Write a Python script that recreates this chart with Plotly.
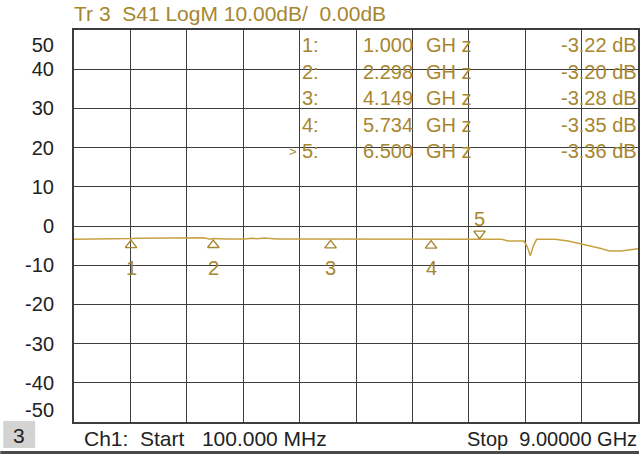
import plotly.graph_objects as go

# ---------------- data ----------------
freq_ghz = [0.1, 0.5, 0.95, 1.0, 1.1, 1.6, 1.86, 2.0, 2.15, 2.25, 2.298, 2.5, 2.8, 2.9,
            3.0, 3.1, 3.2, 3.3, 3.6, 4.149, 4.6, 5.2, 5.734, 6.2, 6.5, 6.85, 6.95,
            7.2, 7.25, 7.30, 7.35, 7.40, 7.69, 7.9, 8.16, 8.4, 8.55, 8.73, 9.0]
s41_db = [-3.4, -3.4, -3.4, -3.22, -3.1, -3.1, -3.12, -3.1, -3.0, -3.35, -3.2, -3.3,
          -3.3, -3.1, -3.25, -3.05, -3.25, -3.3, -3.3, -3.28, -3.3, -3.3, -3.35, -3.3,
          -3.36, -3.38, -3.8, -3.85, -5.2, -7.6, -5.0, -3.4, -3.4, -3.8, -4.7, -5.7,
          -6.35, -6.35, -5.8]

marker_ids = ["1", "2", "3", "4", "5"]
marker_freq = [1.000, 2.298, 4.149, 5.734, 6.500]
marker_db = [-3.22, -3.20, -3.28, -3.35, -3.36]
active_marker = 5

ytick_text = ["50", "40", "30", "20", "10", "0", "-10", "-20", "-30", "-40", "-50"]
ref_level_db = [0.0]

title_text = "Tr 3&nbsp;&nbsp;S41 LogM 10.00dB/&nbsp;&nbsp;0.00dB"
start_text = "Ch1:&nbsp;&nbsp;Start&nbsp;&nbsp;&nbsp;100.000 MHz"
stop_text = "Stop&nbsp;&nbsp;9.00000 GHz"
channel_label = "3"

# ---------------- geometry / style ----------------
W, H = 641, 454
L, R, T, B = 74, 1, 30, 32
PW, PH = W - L - R, H - T - B
F0, F1 = 0.1, 9.0
Y0, Y1 = -50, 50
px_per_db = PH / (Y1 - Y0)
px_per_ghz = PW / (F1 - F0)

GOLD_TXT = "#a7862f"
GOLD_LINE = "#c9a143"
GRID = "#3d3d3d"
DARK = "#222222"
FONT = "Liberation Sans, Arial, sans-serif"
FS = 20

def px(xp):
    return (xp - L) / PW

def py(yp):
    return (T + PH - yp) / PH

fig = go.Figure()

# trace
fig.add_trace(go.Scatter(x=freq_ghz, y=s41_db, mode="lines",
                         line=dict(color=GOLD_LINE, width=1.5),
                         hoverinfo="skip", showlegend=False))

# marker triangles
up_x = [f for i, f in enumerate(marker_freq) if i + 1 != active_marker]
up_y = [v - 6.5 / px_per_db for i, v in enumerate(marker_db) if i + 1 != active_marker]
fig.add_trace(go.Scatter(x=up_x, y=up_y, mode="markers",
                         marker=dict(symbol="triangle-up-open", size=10, color=GOLD_TXT,
                                     line=dict(width=1.4, color=GOLD_TXT)),
                         hoverinfo="skip", showlegend=False))
ai = active_marker - 1
fig.add_trace(go.Scatter(x=[marker_freq[ai]], y=[marker_db[ai] + 5.5 / px_per_db], mode="markers",
                         marker=dict(symbol="triangle-down-open", size=10, color=GOLD_TXT,
                                     line=dict(width=1.4, color=GOLD_TXT)),
                         hoverinfo="skip", showlegend=False))

# reference level arrow (on y2 so the overlay axis has data)
fig.add_trace(go.Scatter(x=[F0 - 4.5 / px_per_ghz], y=ref_level_db, mode="markers",
                         marker=dict(symbol="triangle-right", size=8, color="#8a7222"),
                         cliponaxis=False, yaxis="y2", hoverinfo="skip", showlegend=False))

annotations = []
# marker number labels
for i, (mid, f, v) in enumerate(zip(marker_ids, marker_freq, marker_db)):
    ys = 20 if i + 1 == active_marker else -29
    annotations.append(dict(x=f, y=v, xref="x", yref="y", text=mid, showarrow=False,
                            yshift=ys, font=dict(family=FONT, size=20, color=GOLD_TXT)))

# marker table
row_y = [45, 71.5, 98, 124.5, 151]
for i, (mid, f, v) in enumerate(zip(marker_ids, marker_freq, marker_db)):
    yy = py(row_y[i])
    fnt = dict(family=FONT, size=FS, color=GOLD_TXT)
    annotations.append(dict(x=px(301), y=yy, xref="paper", yref="paper", text=mid + ":",
                            xanchor="left", yanchor="middle", showarrow=False, font=fnt))
    annotations.append(dict(x=px(416), y=yy, xref="paper", yref="paper", text=f"{f:.3f}",
                            xanchor="right", yanchor="middle", showarrow=False, font=fnt))
    annotations.append(dict(x=px(425), y=yy, xref="paper", yref="paper", text="GH z",
                            xanchor="left", yanchor="middle", showarrow=False, font=fnt))
    annotations.append(dict(x=px(641), y=yy, xref="paper", yref="paper", text=f"{v:.2f} dB",
                            xanchor="right", yanchor="middle", showarrow=False, font=fnt))
    if i + 1 == active_marker:
        annotations.append(dict(x=px(300), y=yy, xref="paper", yref="paper", text=">",
                                xanchor="right", yanchor="middle", showarrow=False,
                                font=dict(family=FONT, size=13, color=GOLD_TXT)))

# title
annotations.append(dict(x=px(72), y=py(14), xref="paper", yref="paper", text=title_text,
                        xanchor="left", yanchor="middle", showarrow=False,
                        font=dict(family=FONT, size=21, color=GOLD_TXT)))
# bottom status
annotations.append(dict(x=px(19), y=py(435), xref="paper", yref="paper", text=channel_label,
                        xanchor="center", yanchor="middle", showarrow=False,
                        font=dict(family=FONT, size=21, color=DARK)))
annotations.append(dict(x=px(82), y=py(439), xref="paper", yref="paper", text=start_text,
                        xanchor="left", yanchor="middle", showarrow=False,
                        font=dict(family=FONT, size=21, color=DARK)))
annotations.append(dict(x=px(641), y=py(439), xref="paper", yref="paper", text=stop_text,
                        xanchor="right", yanchor="middle", showarrow=False,
                        font=dict(family=FONT, size=FS, color=DARK)))

shapes = [
    dict(type="rect", xref="paper", yref="paper", x0=px(3), x1=px(35), y0=py(421), y1=py(448),
         fillcolor="#d3d3d3", line=dict(width=0), layer="below"),
    dict(type="line", xref="paper", yref="paper", x0=px(0), x1=px(641), y0=py(452.5), y1=py(452.5),
         line=dict(color="#4a4a4a", width=3)),
]

# y tick label positions (50 and -50 are pulled inside the frame as on the instrument)
ytick_vals = []
for t in ytick_text:
    v = float(t)
    if v == Y1:
        v = Y1 - 15 / px_per_db
    elif v == Y0:
        v = Y0 + 12 / px_per_db
    ytick_vals.append(v)

fig.update_layout(
    width=W, height=H, margin=dict(l=L, r=R, t=T, b=B, pad=0),
    paper_bgcolor="white", plot_bgcolor="white",
    xaxis=dict(range=[F0, F1], tickmode="linear", tick0=F0, dtick=(F1 - F0) / 10,
               showticklabels=False, ticks="", showgrid=True, gridcolor=GRID, gridwidth=1,
               zeroline=False, showline=True, mirror=True, linecolor=GRID, linewidth=1.5,
               fixedrange=True),
    yaxis=dict(range=[Y0, Y1], tickmode="linear", tick0=0, dtick=10,
               showticklabels=False, ticks="", showgrid=True, gridcolor=GRID, gridwidth=1,
               zeroline=False, showline=True, mirror=True, linecolor=GRID, linewidth=1.5,
               fixedrange=True),
    yaxis2=dict(range=[Y0, Y1], overlaying="y", side="left", tickmode="array",
                tickvals=ytick_vals, ticktext=ytick_text, showgrid=False, zeroline=False,
                showline=False, ticks="outside", ticklen=15, tickcolor="rgba(0,0,0,0)",
                tickfont=dict(family=FONT, size=FS, color=DARK), fixedrange=True),
    annotations=annotations,
    shapes=shapes,
    showlegend=False,
)

fig.write_html("out.html", config={"displayModeBar": False},
               post_script="document.body.style.margin='0';document.body.style.overflow='hidden';")
